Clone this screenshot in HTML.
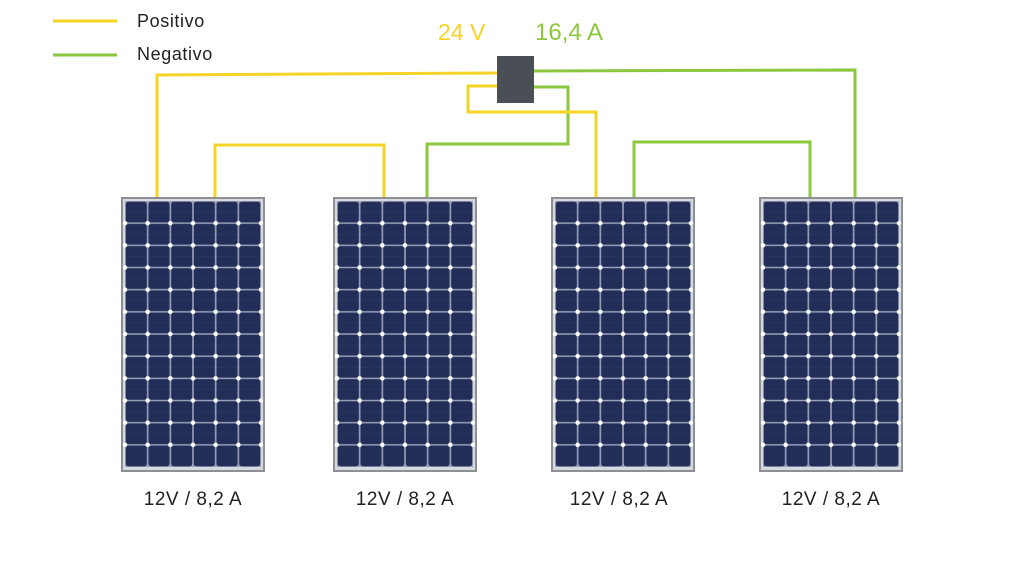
<!DOCTYPE html>
<html><head><meta charset="utf-8"><style>
html,body{margin:0;padding:0;background:#fff;width:1024px;height:576px;overflow:hidden}
svg text{font-family:"Liberation Sans",sans-serif}
</style></head><body>
<svg width="1024" height="576" viewBox="0 0 1024 576" xmlns="http://www.w3.org/2000/svg">
<defs>
<pattern id="cells" x="4" y="4" width="22.67" height="22.17" patternUnits="userSpaceOnUse">
<rect width="22.67" height="22.17" fill="#9aa2ba"/>
<rect x="0.8" y="0.8" width="21.07" height="20.57" rx="2.5" fill="#222d58"/>
<line x1="1" y1="11" x2="21.6" y2="11" stroke="#2a3763" stroke-width="0.8"/>
</pattern>
<g id="panel">
<rect x="0" y="0" width="144" height="275" fill="#8c9094"/>
<rect x="2" y="2" width="140" height="271" fill="#d6d9dd"/>
<rect x="4" y="4" width="136" height="266" fill="url(#cells)"/>
<g stroke="#fff" stroke-width="4.4" stroke-linecap="round" stroke-dasharray="0 22.67">
<line x1="4" y1="26.17" x2="141" y2="26.17"/>
<line x1="4" y1="48.33" x2="141" y2="48.33"/>
<line x1="4" y1="70.5" x2="141" y2="70.5"/>
<line x1="4" y1="92.67" x2="141" y2="92.67"/>
<line x1="4" y1="114.83" x2="141" y2="114.83"/>
<line x1="4" y1="137" x2="141" y2="137"/>
<line x1="4" y1="159.17" x2="141" y2="159.17"/>
<line x1="4" y1="181.33" x2="141" y2="181.33"/>
<line x1="4" y1="203.5" x2="141" y2="203.5"/>
<line x1="4" y1="225.67" x2="141" y2="225.67"/>
<line x1="4" y1="247.83" x2="141" y2="247.83"/>
</g>
</g>
</defs>
<line x1="53" y1="21" x2="117" y2="21" stroke="#f5d327" stroke-width="3"/>
<line x1="53" y1="55" x2="117" y2="55" stroke="#8dc63f" stroke-width="3"/>
<text x="137" y="27" font-size="18" letter-spacing="0.6" fill="#222">Positivo</text>
<text x="137" y="60" font-size="18" letter-spacing="0.6" fill="#222">Negativo</text>
<text x="438" y="40" font-size="23" fill="#f5d327">24 V</text>
<text x="535" y="40" font-size="24" fill="#8dc63f">16,4 A</text>
<g fill="none" stroke-width="3">
<polyline stroke="#f5d327" points="497,73 157,75 157,197"/>
<polyline stroke="#f5d327" points="215,197 215,145 384,145 384,197"/>
<polyline stroke="#8dc63f" points="533,71 855,70 855,197"/>
<polyline stroke="#8dc63f" points="533,87 568,87 568,144 427,144 427,197"/>
<polyline stroke="#f5d327" points="497,86 468,86 468,112 596,112 596,197"/>
<polyline stroke="#8dc63f" points="634,197 634,142 810,142 810,197"/>
</g>
<rect x="497" y="56" width="37" height="47" fill="#4a4f55"/>
<use href="#panel" x="121" y="197"/>
<use href="#panel" x="333" y="197"/>
<use href="#panel" x="551" y="197"/>
<use href="#panel" x="759" y="197"/>
<g font-size="19" letter-spacing="0.5" fill="#222" text-anchor="middle">
<text x="193" y="505">12V / 8,2 A</text>
<text x="405" y="505">12V / 8,2 A</text>
<text x="619" y="505">12V / 8,2 A</text>
<text x="831" y="505">12V / 8,2 A</text>
</g>
</svg>
</body></html>
